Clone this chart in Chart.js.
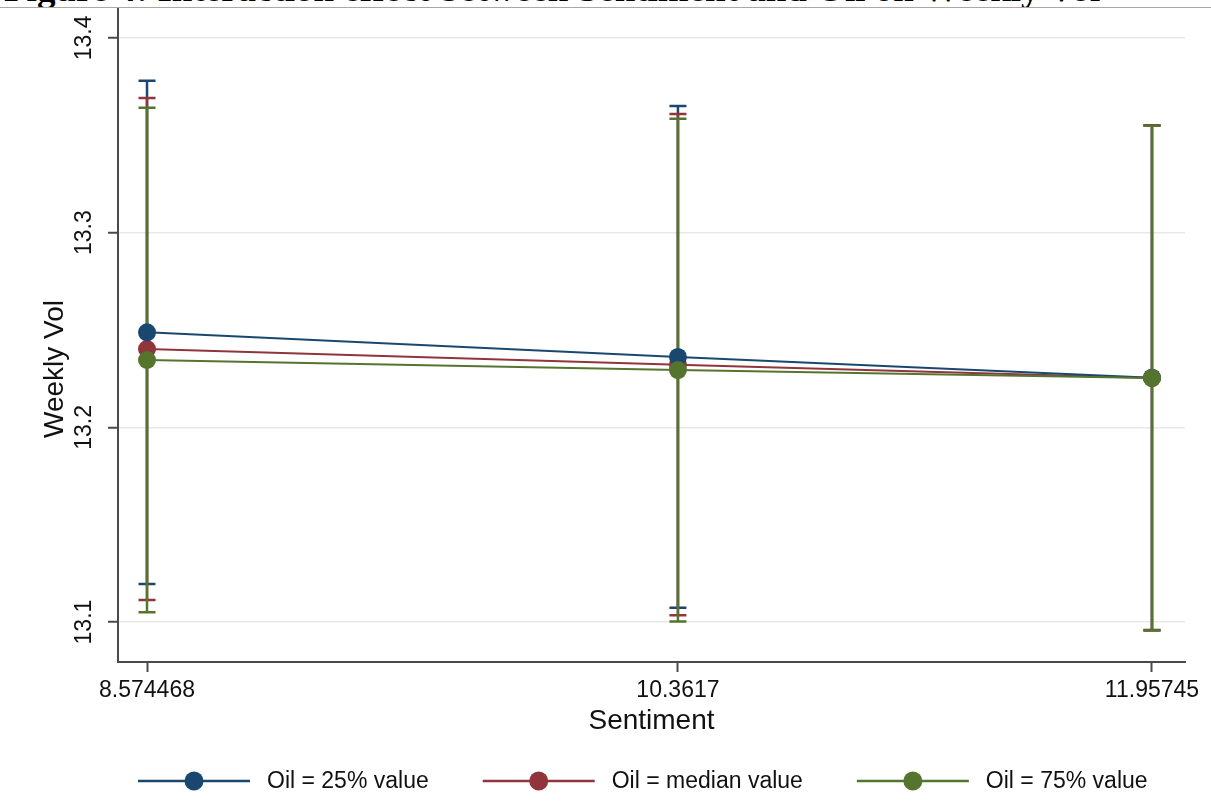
<!DOCTYPE html>
<html>
<head>
<meta charset="utf-8">
<title>Weekly Vol by Sentiment and Oil</title>
<script src="https://cdn.jsdelivr.net/npm/chart.js@4.4.1/dist/chart.umd.min.js"></script>
<style>
  html, body { margin: 0; padding: 0; background: #fff; }
  #wrap { position: relative; width: 1211px; height: 811px; overflow: hidden; }
  #cap {
    position: absolute; left: 0; top: 0; width: 1211px; height: 7px;
    overflow: hidden; border-bottom: 1px solid #a8a8a8; background: #fff; z-index: 2;
  }
  #cap span {
    position: absolute; left: 4px; top: -31px; white-space: nowrap;
    font: bold 37px "Liberation Serif", "Times New Roman", serif; line-height: 40px; color: #000;
  }
  #chart { position: absolute; left: 0; top: 0; }
</style>
</head>
<body>
<div id="wrap">
  <div id="cap"><span>Figure 4: Interaction effect between Sentiment and Oil on Weekly Vol</span></div>
  <canvas id="chart" width="1211" height="811"></canvas>
</div>
<script>
// Sentiment levels at which the margins are evaluated
const sentiment = [8.574468, 10.3617, 11.95745];
const sentimentLabels = ['8.574468', '10.3617', '11.95745'];

// Predicted weekly vol with 95% confidence limits, by oil level
const oil25 = [13.2488, 13.2362, 13.2255];
const oil25Low = [13.1195, 13.1073, 13.0959];
const oil25High = [13.3780, 13.3651, 13.3551];

const oilMedian = [13.2402, 13.2322, 13.2254];
const oilMedianLow = [13.1113, 13.1035, 13.0958];
const oilMedianHigh = [13.3692, 13.3609, 13.3550];

const oil75 = [13.2346, 13.2294, 13.2253];
const oil75Low = [13.1051, 13.1003, 13.0957];
const oil75High = [13.3641, 13.3585, 13.3549];

const seriesNames = ['Oil = 25% value', 'Oil = median value', 'Oil = 75% value'];

// Y axis ticks
const yTicks = [13.1, 13.2, 13.3, 13.4];
const yTickLabels = ['13.1', '13.2', '13.3', '13.4'];

const FONT = '"Liberation Sans", Arial, Helvetica, sans-serif';
const TEXT = '#111111';
const AXIS = '#4a4a4a';

function points(vals) {
  return vals.map((v, i) => ({ x: sentiment[i], y: v }));
}

function series(label, vals, lo, hi, color, order) {
  return {
    label: label,
    data: points(vals),
    errLow: lo,
    errHigh: hi,
    borderColor: color,
    backgroundColor: color,
    pointBackgroundColor: color,
    pointBorderColor: color,
    borderWidth: 2,
    pointRadius: 9,
    pointBorderWidth: 0,
    pointHoverRadius: 9,
    tension: 0,
    order: order
  };
}

// Confidence-interval whiskers with caps, drawn under the lines and markers
const errorBars = {
  id: 'errorBars',
  beforeDatasetsDraw(chart) {
    const { ctx, scales: { x, y } } = chart;
    ctx.save();
    ctx.lineCap = 'butt';
    chart.data.datasets.forEach(ds => {
      ctx.strokeStyle = ds.borderColor;
      ctx.lineWidth = 2.5;
      ds.data.forEach((p, i) => {
        const px = x.getPixelForValue(p.x);
        const yl = y.getPixelForValue(ds.errLow[i]);
        const yh = y.getPixelForValue(ds.errHigh[i]);
        const cap = 8.5;
        ctx.beginPath();
        ctx.moveTo(px, yl); ctx.lineTo(px, yh);
        ctx.moveTo(px - cap, yl); ctx.lineTo(px + cap, yl);
        ctx.moveTo(px - cap, yh); ctx.lineTo(px + cap, yh);
        ctx.stroke();
      });
    });
    ctx.restore();
  }
};

// Y axis title and the legend row underneath the plot
const annotations = {
  id: 'annotations',
  afterDraw(chart) {
    const { ctx } = chart;
    ctx.save();
    ctx.fillStyle = TEXT;
    ctx.font = '28px ' + FONT;
    ctx.textAlign = 'center';
    ctx.textBaseline = 'middle';
    ctx.translate(55, 369);
    ctx.rotate(-Math.PI / 2);
    ctx.fillText('Weekly Vol', 0, 0);
    ctx.restore();

    ctx.save();
    ctx.font = '23px ' + FONT;
    ctx.textBaseline = 'middle';
    ctx.textAlign = 'left';
    const ly = 781;
    let lx = 138;
    chart.data.datasets.forEach(ds => {
      ctx.strokeStyle = ds.borderColor;
      ctx.lineWidth = 2.5;
      ctx.beginPath();
      ctx.moveTo(lx, ly); ctx.lineTo(lx + 112, ly);
      ctx.stroke();
      ctx.fillStyle = ds.backgroundColor;
      ctx.beginPath();
      ctx.arc(lx + 56, ly, 9.5, 0, Math.PI * 2);
      ctx.fill();
      ctx.fillStyle = TEXT;
      ctx.fillText(ds.label, lx + 129, ly + 1);
      lx += 129 + ctx.measureText(ds.label).width + 54;
    });
    ctx.restore();
  }
};

new Chart(document.getElementById('chart'), {
  type: 'line',
  data: {
    datasets: [
      series(seriesNames[0], oil25, oil25Low, oil25High, '#1a476f', 1),
      series(seriesNames[1], oilMedian, oilMedianLow, oilMedianHigh, '#90353b', 2),
      series(seriesNames[2], oil75, oil75Low, oil75High, '#55752f', 0)
    ]
  },
  options: {
    responsive: false,
    animation: false,
    devicePixelRatio: 1,
    layout: { padding: { top: 8, right: 26, bottom: 69, left: 0 } },
    plugins: {
      legend: { display: false },
      tooltip: { enabled: false },
      title: { display: false }
    },
    scales: {
      x: {
        type: 'linear',
        min: 8.4768,
        max: 12.0686,
        afterBuildTicks(scale) {
          scale.ticks = sentiment.map(v => ({ value: v }));
        },
        afterFit(scale) {
          scale.height = 80;
          scale.paddingLeft = 0;
          scale.paddingRight = 0;
        },
        ticks: {
          autoSkip: false,
          maxRotation: 0,
          minRotation: 0,
          padding: 5,
          color: TEXT,
          font: { family: FONT, size: 23 },
          callback(value) {
            const i = sentiment.indexOf(value);
            return i >= 0 ? sentimentLabels[i] : '';
          }
        },
        grid: {
          drawOnChartArea: false,
          drawTicks: true,
          tickLength: 10,
          tickColor: AXIS,
          tickWidth: 2
        },
        border: { display: true, color: AXIS, width: 2 },
        title: {
          display: true,
          text: 'Sentiment',
          color: TEXT,
          font: { family: FONT, size: 28 },
          padding: { top: 0, bottom: 4 }
        }
      },
      y: {
        type: 'linear',
        min: 13.07949,
        max: 13.41487,
        afterBuildTicks(scale) {
          scale.ticks = yTicks.map(v => ({ value: v }));
        },
        afterFit(scale) {
          scale.width = 118;
          scale.paddingTop = 0;
          scale.paddingBottom = 0;
        },
        ticks: {
          autoSkip: false,
          minRotation: 90,
          maxRotation: 90,
          crossAlign: 'center',
          padding: 1,
          color: TEXT,
          font: { family: FONT, size: 23 },
          callback(value) {
            const i = yTicks.findIndex(t => Math.abs(t - value) < 1e-9);
            return i >= 0 ? yTickLabels[i] : '';
          }
        },
        grid: {
          drawOnChartArea: true,
          color: '#e9e9e9',
          lineWidth: 1.5,
          drawTicks: true,
          tickLength: 10,
          tickColor: AXIS,
          tickWidth: 2
        },
        border: { display: true, color: AXIS, width: 2 },
        title: { display: false }
      }
    }
  },
  plugins: [errorBars, annotations]
});
</script>
</body>
</html>
